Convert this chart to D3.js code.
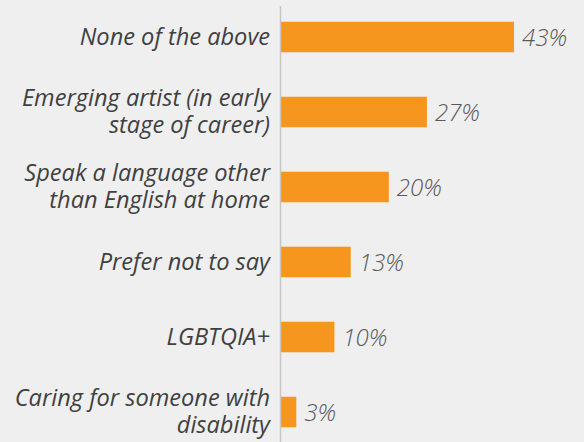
<!DOCTYPE html>
<html>
<head>
<meta charset="utf-8">
<script src="https://cdn.jsdelivr.net/npm/d3@7"></script>
<style>
  html, body { margin: 0; padding: 0; background: #efefef; }
  svg { display: block; }
</style>
</head>
<body>
<script>
// Survey categories (label lines) and share of respondents (%)
const categories = [
  ["None of the above"],
  ["Emerging artist (in early", "stage of career)"],
  ["Speak a language other", "than English at home"],
  ["Prefer not to say"],
  ["LGBTQIA+"],
  ["Caring for someone with", "disability"]
];
const values = [43, 27, 20, 13, 10, 3];
const valueLabels = ["43%", "27%", "20%", "13%", "10%", "3%"];

const W = 584, H = 442;
const axisX = 280;

const svg = d3.select("body").append("svg")
  .attr("width", W).attr("height", H);

svg.append("rect").attr("width", W).attr("height", H).attr("fill", "#efefef");

const keys = categories.map((c, i) => i);

const y = d3.scaleBand()
  .domain(keys)
  .range([-0.5, 449.5])
  .paddingInner(0.593)
  .paddingOuter(0.2965);

const x = d3.scaleLinear()
  .domain([0, 43])
  .range([axisX, 514]);

// bars
svg.append("g").selectAll("rect")
  .data(keys)
  .join("rect")
  .attr("x", x(0))
  .attr("y", i => y(i))
  .attr("width", i => x(values[i]) - x(0))
  .attr("height", y.bandwidth())
  .attr("fill", "#f7961f");

// vertical axis line
svg.append("line")
  .attr("x1", axisX + 0.5).attr("x2", axisX + 0.5)
  .attr("y1", 6).attr("y2", H)
  .attr("stroke", "#c6c6c6").attr("stroke-width", 1.5);

// category labels, right aligned, one text per line
const labels = svg.append("g")
  .attr("font-family", "'Open Sans', sans-serif")
  .attr("font-style", "italic")
  .attr("font-size", 23.6)
  .attr("fill", "#404040")
  .attr("text-anchor", "end");

keys.forEach(i => {
  const c = y(i) + y.bandwidth() / 2;
  const lines = categories[i];
  const baselines = lines.length === 1 ? [c + 7.5] : [c - 6, c + 21];
  lines.forEach((line, k) => {
    labels.append("text")
      .attr("x", 270)
      .attr("y", baselines[k])
      .text(line);
  });
});

// value labels
svg.append("g")
  .attr("font-family", "'Open Sans', sans-serif")
  .attr("font-style", "italic")
  .attr("font-weight", 300)
  .attr("font-size", 24)
  .attr("fill", "#595959")
  .selectAll("text")
  .data(keys)
  .join("text")
  .attr("x", i => x(values[i]) + 8)
  .attr("y", i => y(i) + y.bandwidth() / 2 + 8.5)
  .text(i => valueLabels[i]);
</script>
</body>
</html>
